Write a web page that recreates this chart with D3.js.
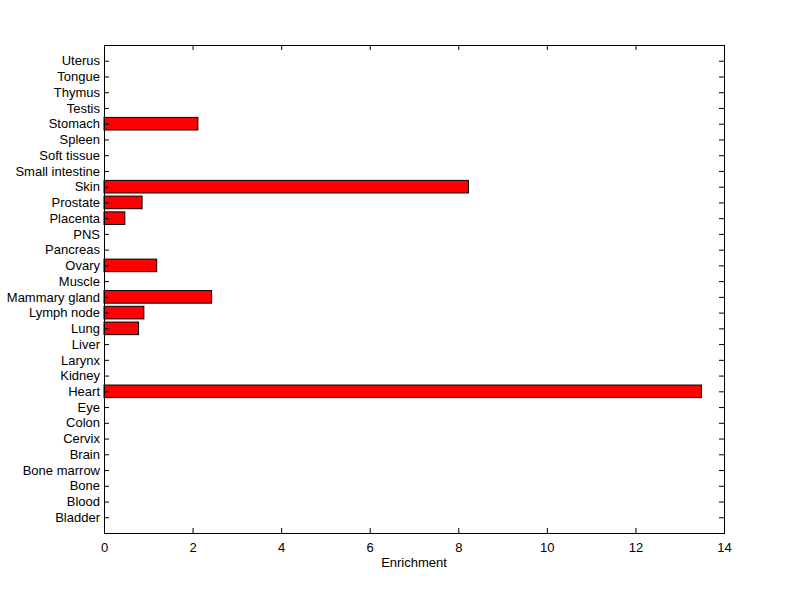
<!DOCTYPE html>
<html><head><meta charset="utf-8">
<script src="https://cdn.jsdelivr.net/npm/d3@7"></script>
<style>body{margin:0;background:#fff}svg{display:block}text{font-family:Arial,"Liberation Sans",sans-serif}</style>
</head><body><svg id="c" width="800" height="599"></svg>
<script>
const categories = ["Bladder","Blood","Bone","Bone marrow","Brain","Cervix","Colon","Eye","Heart","Kidney","Larynx","Liver","Lung","Lymph node","Mammary gland","Muscle","Ovary","Pancreas","PNS","Placenta","Prostate","Skin","Small intestine","Soft tissue","Spleen","Stomach","Testis","Thymus","Tongue","Uterus"];
const enrichment = [0,0,0,0,0,0,0,0,13.49,0,0,0,0.78,0.90,2.43,0,1.19,0,0,0.47,0.86,8.23,0,0,0,2.12,0,0,0,0];
const xTicks = [0,2,4,6,8,10,12,14];
const xLabel = "Enrichment";

const svg = d3.select("#c");
const L = 104, R = 724, T = 45, B = 533;
const x = d3.scaleLinear().domain([0,14]).range([L,R]);
const y = d3.scaleLinear().domain([0,categories.length+1]).range([B,T]);
const bw = (y(0)-y(0.8));

svg.append("rect").attr("x",L).attr("y",T).attr("width",R-L).attr("height",B-T).attr("fill","#fff");

svg.selectAll(".bar").data(enrichment.map((v,i)=>({v,i})).filter(d=>d.v>0)).join("rect")
  .attr("x",x(0)).attr("y",d=>y(d.i+1)-bw/2).attr("width",d=>x(d.v)-x(0)).attr("height",bw)
  .attr("fill","#ff0000").attr("stroke","#000").attr("stroke-width",1);

const fs = "13px";
// bottom axis
const gb = svg.append("g").attr("transform",`translate(0,${B})`)
  .call(d3.axisBottom(x).tickValues(xTicks).tickSizeInner(-5).tickSizeOuter(0).tickPadding(10).tickFormat(d3.format("d")));
const gt = svg.append("g").attr("transform",`translate(0,${T})`)
  .call(d3.axisTop(x).tickValues(xTicks).tickSizeInner(-5).tickSizeOuter(0).tickFormat(""));
const yt = categories.map((c,i)=>i+1);
const gl = svg.append("g").attr("transform",`translate(${L},0)`)
  .call(d3.axisLeft(y).tickValues(yt).tickSizeInner(-5).tickSizeOuter(0).tickPadding(4).tickFormat((d)=>categories[d-1]));
const gr = svg.append("g").attr("transform",`translate(${R},0)`)
  .call(d3.axisRight(y).tickValues(yt).tickSizeInner(-5).tickSizeOuter(0).tickFormat(""));
[gb,gt,gl,gr].forEach(g=>{
  g.selectAll("text").attr("font-size",fs).attr("fill","#000").style("font-family","Arial, 'Liberation Sans', sans-serif");
  g.selectAll("line").attr("stroke","#000");
  g.select(".domain").remove();
});
gl.selectAll(".tick text").attr("x",-4);
svg.append("rect").attr("x",L).attr("y",T).attr("width",R-L).attr("height",B-T)
  .attr("fill","none").attr("stroke","#000").attr("stroke-width",1).attr("shape-rendering","crispEdges");

svg.append("text").attr("x",(L+R)/2).attr("y",567).attr("text-anchor","middle").attr("font-size",fs).text(xLabel);
</script></body></html>
